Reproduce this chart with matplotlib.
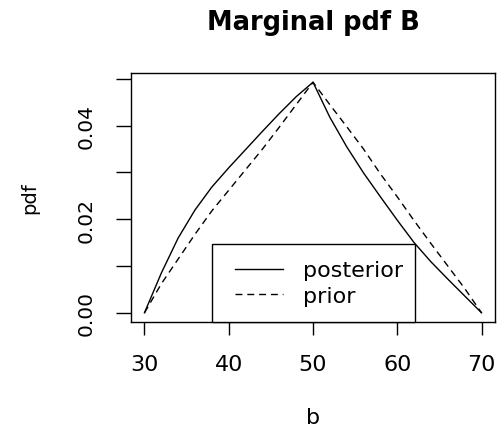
import matplotlib
matplotlib.use("Agg")
import matplotlib.pyplot as plt
from matplotlib.lines import Line2D
from matplotlib.legend_handler import HandlerLine2D

plt.rcParams['font.family'] = ['DejaVu Sans']

b_vals = [30, 32, 34, 36, 38, 40, 42, 44, 46, 48, 50,
          52, 54, 56, 58, 60, 62, 64, 66, 68, 70]
posterior = [0.0, 0.0085, 0.0160, 0.0220, 0.0269, 0.0310, 0.0349, 0.0388, 0.0426, 0.0462, 0.0493,
             0.0418, 0.0355, 0.0299, 0.0248, 0.0198, 0.0150, 0.0109, 0.0072, 0.0036, 0.0]
prior = [0.0, 0.0062, 0.0115, 0.0168, 0.0218, 0.0262, 0.0306, 0.0350, 0.0397, 0.0445, 0.0493,
         0.0445, 0.0398, 0.0350, 0.0297, 0.0248, 0.0197, 0.0148, 0.0100, 0.0052, 0.0]
x_ticks = [30, 40, 50, 60, 70]
y_ticks = [0.00, 0.01, 0.02, 0.03, 0.04, 0.05]
y_tick_labels = ['0.00', '', '0.02', '', '0.04', '']
legend_labels = ['posterior', 'prior']

W, H = 499, 427
fig = plt.figure(figsize=(W / 100, H / 100), dpi=100)
L, R, T, B = 131, 495, 74, 323
ax = fig.add_axes([L / W, 1 - B / H, (R - L) / W, (B - T) / H])

lw = 1.0
dash = (0, (5, 3.5))
ax.plot(b_vals, posterior, color='black', lw=lw)
ax.plot(b_vals, prior, color='black', lw=lw, linestyle=dash)

xr = max(b_vals) - min(b_vals)
ax.set_xlim(min(b_vals) - 0.04 * xr, max(b_vals) + 0.04 * xr)
ymax = max(max(posterior), max(prior))
ax.set_ylim(-0.04 * ymax, ymax * 1.04)

ax.set_xticks(x_ticks)
ax.set_xticklabels([str(t) for t in x_ticks], fontsize=16)
ax.set_yticks(y_ticks)
ax.set_yticklabels(y_tick_labels, fontsize=14.5, rotation=90, va='center')
ax.tick_params(axis='x', direction='out', length=9.4, width=lw, color='black', pad=13.5)
ax.tick_params(axis='y', direction='out', length=10.8, width=lw, color='black', pad=14.5)
for s in ax.spines.values():
    s.set_linewidth(lw)
    s.set_color('black')

fig.text((L + R) / 2 / W, 1 - 29.5 / H, 'Marginal pdf B', ha='center', va='baseline',
         fontsize=18.5, fontweight='bold')
fig.text((L + R) / 2 / W, 1 - 418 / H, 'b', ha='center', va='center', fontsize=16)
fig.text(30 / W, 1 - 198 / H, 'pdf', ha='center', va='center', fontsize=14, rotation=90)

handles = [Line2D([], [], color='black', lw=lw),
           Line2D([], [], color='black', lw=lw, linestyle=dash)]
x0 = (211.7 - L) / (R - L)
w = (415 - 211.7) / (R - L)
h = (B - 242.7) / (B - T)
hm = {hd: HandlerLine2D(xpad=0.315) for hd in handles}
leg = ax.legend(handles, legend_labels, loc='lower left', bbox_to_anchor=(x0, 0, w, h),
                mode='expand', borderaxespad=0, fancybox=False, framealpha=1,
                edgecolor='black', fontsize=16, handlelength=2.48, handletextpad=0.9,
                labelspacing=0.25, borderpad=0.72, handler_map=hm)
leg.get_frame().set_linewidth(lw)

fig.savefig('out.png', dpi=100)
